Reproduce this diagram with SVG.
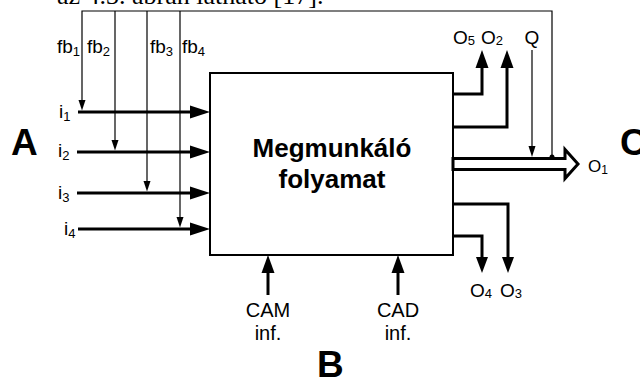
<svg xmlns="http://www.w3.org/2000/svg" width="640" height="381" viewBox="0 0 640 381">
<defs>
<style>
text{font-family:"Liberation Sans",Arial,sans-serif;fill:#000}
.lbl{font-size:19px}
.sub{font-size:13px}
.big{font-size:37px;font-weight:bold}
.cap{font-family:"Liberation Serif","Times New Roman",serif;font-size:26px}
.thin{stroke:#000;stroke-width:1.2;fill:none}
.thick{stroke:#000;stroke-width:3;fill:none}
.head{fill:#000;stroke:none}
</style>
</defs>
<rect width="640" height="381" fill="#fff"/>
<text class="cap" x="57" y="4">az 4.3. ábrán látható [17].</text>

<g id="process">
<rect x="210" y="73" width="243" height="182" fill="#fff" stroke="#000" stroke-width="2"/>
<text x="332" y="157" text-anchor="middle" font-size="26" font-weight="bold">Megmunkáló</text>
<text x="332" y="188" text-anchor="middle" font-size="26" font-weight="bold">folyamat</text>
</g>

<g id="labelA"><text class="big" x="11" y="155">A</text></g>
<g id="labelB"><text class="big" x="317" y="377">B</text></g>
<g id="labelC"><text class="big" x="620" y="155">C</text></g>

<g id="connectors">
<polyline class="thin" points="82,107 82,11 552,11 552,157"/>
<line class="thin" x1="115" y1="11" x2="115" y2="147"/>
<line class="thin" x1="147" y1="11" x2="147" y2="188"/>
<line class="thin" x1="180" y1="11" x2="180" y2="224"/>
<polygon class="head" points="78.5,100 85.5,100 82,110.5"/>
<polygon class="head" points="111.5,140 118.5,140 115,150.5"/>
<polygon class="head" points="143.5,181 150.5,181 147,191.5"/>
<polygon class="head" points="176.5,217 183.5,217 180,227.5"/>
<line class="thick" x1="78" y1="112" x2="192" y2="112"/>
<polygon class="head" points="190,105.5 210,112 190,118.5"/>
<line class="thick" x1="77" y1="152" x2="192" y2="152"/>
<polygon class="head" points="190,145.5 210,152 190,158.5"/>
<line class="thick" x1="77" y1="193" x2="192" y2="193"/>
<polygon class="head" points="190,186.5 210,193 190,199.5"/>
<line class="thick" x1="78" y1="229" x2="192" y2="229"/>
<polygon class="head" points="190,222.5 210,229 190,235.5"/>
<line class="thick" x1="268" y1="295" x2="268" y2="271"/>
<polygon class="head" points="261.5,273 268,255 274.5,273"/>
<line class="thick" x1="398" y1="295" x2="398" y2="271"/>
<polygon class="head" points="391.5,273 398,255 404.5,273"/>
<polyline class="thick" points="453,94 482,94 482,66"/>
<polygon class="head" points="475.5,68 482,50 488.5,68"/>
<polyline class="thick" points="453,127 507,127 507,66"/>
<polygon class="head" points="500.5,68 507,50 513.5,68"/>
<polyline class="thick" points="453,236 482,236 482,259"/>
<polygon class="head" points="476,257 482,273 488,257"/>
<polyline class="thick" points="453,204 508,204 508,259"/>
<polygon class="head" points="502,257 508,273 514,257"/>
<polygon points="453,158.5 565,158.5 565,149.5 578,164 565,178.5 565,169.5 453,169.5" fill="#fff" stroke="#000" stroke-width="3"/>
<line class="thin" x1="532" y1="50" x2="532" y2="148"/>
<polygon class="head" points="528.5,146 535.5,146 532,157"/>
<circle cx="552" cy="157" r="2.5" fill="#000"/>
</g>

<g id="texts">
<text class="lbl" x="57" y="53">fb<tspan class="sub" dy="3">1</tspan></text>
<text class="lbl" x="87" y="53">fb<tspan class="sub" dy="3">2</tspan></text>
<text class="lbl" x="150" y="53">fb<tspan class="sub" dy="3">3</tspan></text>
<text class="lbl" x="182" y="53">fb<tspan class="sub" dy="3">4</tspan></text>
<text class="lbl" x="59" y="118">i<tspan class="sub" dy="3">1</tspan></text>
<text class="lbl" x="58" y="157">i<tspan class="sub" dy="3">2</tspan></text>
<text class="lbl" x="58" y="199">i<tspan class="sub" dy="3">3</tspan></text>
<text class="lbl" x="64" y="235">i<tspan class="sub" dy="3">4</tspan></text>
<text class="lbl" x="453" y="44">O<tspan class="sub" dy="1">5</tspan></text>
<text class="lbl" x="481" y="44">O<tspan class="sub" dy="1">2</tspan></text>
<text class="lbl" x="532" y="44" text-anchor="middle">Q</text>
<text class="lbl" x="470" y="297">O<tspan class="sub" dy="1">4</tspan></text>
<text class="lbl" x="500" y="297">O<tspan class="sub" dy="1">3</tspan></text>
<text x="588" y="172" font-size="17">O<tspan font-size="12" dy="2">1</tspan></text>
<text x="268" y="317" text-anchor="middle" font-size="20">CAM</text>
<text x="268" y="340" text-anchor="middle" font-size="20">inf.</text>
<text x="398" y="317" text-anchor="middle" font-size="20">CAD</text>
<text x="398" y="340" text-anchor="middle" font-size="20">inf.</text>
</g>
</svg>
